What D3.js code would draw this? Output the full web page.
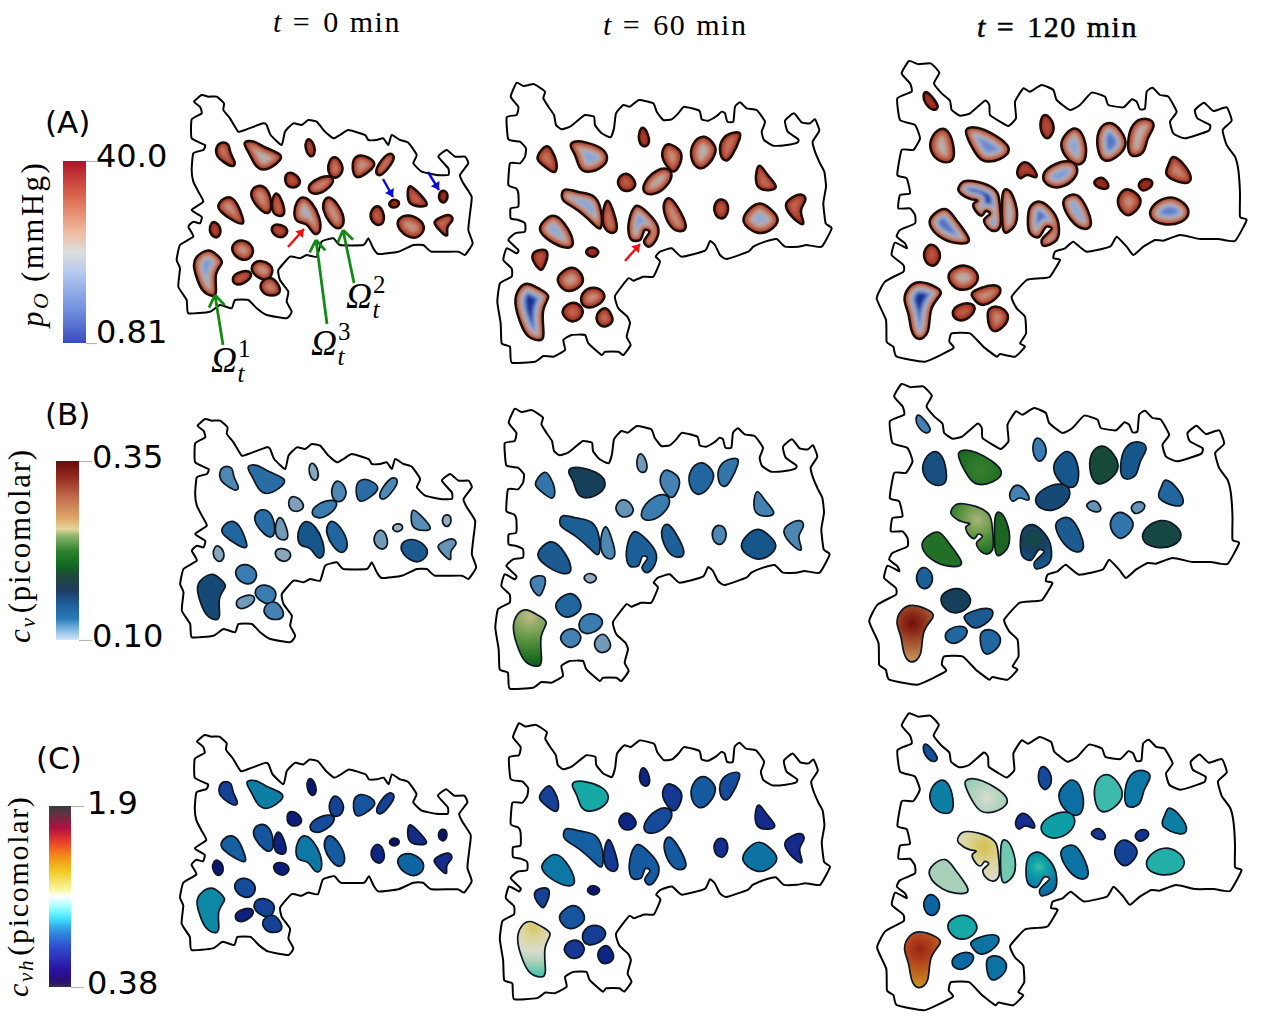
<!DOCTYPE html>
<html>
<head>
<meta charset="utf-8">
<script src="https://cdn.jsdelivr.net/npm/d3@7"></script>
<style>
  html, body { margin: 0; padding: 0; background: #fff; overflow: hidden; }
  svg { display: block; }
</style>
</head>
<body>
<svg id="fig" width="1276" height="1023"></svg>
<script>
// Tissue outlines at each time, in tissue coordinates.
const outlineT0 = [[605,105],[625,110],[650,110],[672,130],[670,150],[690,175],[715,215],[740,208],[790,190],[800,195],[812,225],[845,255],[855,215],[880,190],[905,195],[925,180],[950,185],[975,215],[1000,235],[1020,225],[1045,210],[1095,225],[1105,240],[1130,240],[1150,235],[1165,255],[1175,225],[1200,240],[1225,248],[1250,285],[1240,310],[1265,335],[1310,345],[1345,345],[1345,325],[1315,290],[1340,270],[1365,290],[1395,290],[1405,310],[1380,345],[1390,370],[1415,410],[1410,460],[1405,510],[1418,550],[1395,585],[1375,575],[1295,575],[1270,555],[1240,555],[1195,575],[1135,582],[1120,565],[1105,535],[1090,555],[1020,555],[1000,535],[965,545],[950,590],[920,585],[900,595],[870,590],[835,630],[840,660],[865,695],[860,725],[875,755],[860,775],[800,765],[770,745],[745,720],[705,720],[695,745],[660,735],[630,755],[565,760],[560,720],[535,680],[540,625],[530,600],[540,555],[580,530],[565,500],[580,485],[600,490],[605,470],[575,450],[610,425],[595,395],[580,365],[575,330],[580,280],[610,270],[615,255],[575,235],[575,178],[605,160],[600,140],[582,125]];
const outlineT60 = [[80,68],[100,78],[130,72],[145,80],[165,95],[160,115],[175,140],[192,165],[198,195],[215,208],[240,200],[265,180],[285,165],[312,170],[315,195],[335,220],[362,232],[372,205],[378,160],[400,135],[420,140],[447,120],[490,130],[500,155],[520,180],[545,178],[565,160],[582,140],[628,152],[635,178],[655,182],[680,168],[695,155],[705,160],[712,185],[730,185],[735,140],[750,127],[770,145],[800,150],[825,185],[815,215],[822,240],[850,257],[890,255],[922,248],[925,238],[893,215],[885,182],[912,160],[935,187],[960,190],[975,178],[988,212],[968,245],[975,275],[990,310],[1003,335],[1008,380],[1000,430],[1007,490],[1025,505],[995,560],[950,555],[925,560],[885,560],[860,537],[825,545],[790,560],[775,575],[710,597],[690,585],[675,555],[660,543],[645,572],[575,590],[545,565],[510,575],[497,590],[510,605],[490,650],[460,650],[430,662],[415,655],[375,708],[385,745],[412,770],[420,790],[410,830],[422,855],[400,885],[385,875],[345,875],[335,885],[295,850],[285,825],[245,825],[220,840],[225,870],[190,890],[160,888],[135,905],[65,908],[60,860],[35,850],[32,790],[22,725],[30,670],[65,650],[65,625],[40,600],[50,565],[80,580],[85,570],[55,540],[75,520],[105,515],[105,490],[85,480],[62,475],[62,445],[85,440],[85,400],[78,385],[55,375],[60,310],[90,310],[105,290],[108,265],[90,245],[55,238],[50,172],[80,165],[85,140],[62,110]];
const outlineT120 = [[147,33],[175,43],[212,40],[238,68],[222,100],[245,130],[270,152],[275,180],[300,197],[330,190],[375,152],[388,165],[390,195],[420,215],[445,228],[468,205],[465,155],[490,115],[510,125],[545,105],[580,120],[590,150],[630,180],[660,165],[695,128],[735,140],[745,165],[790,172],[815,148],[830,155],[840,178],[855,175],[860,125],[878,113],[900,135],[925,140],[950,185],[930,215],[940,250],[975,265],[1045,243],[1050,225],[1012,205],[1005,180],[1032,158],[1060,183],[1100,172],[1115,212],[1088,240],[1100,285],[1125,320],[1135,360],[1140,430],[1140,500],[1160,510],[1125,573],[1075,567],[1020,567],[960,555],[910,572],[885,570],[850,590],[820,615],[800,590],[770,560],[750,590],[680,605],[640,575],[615,595],[585,605],[580,625],[600,630],[570,680],[540,685],[500,690],[455,740],[470,775],[495,800],[498,850],[480,880],[495,890],[465,920],[420,912],[410,920],[370,890],[330,850],[275,850],[268,875],[280,895],[195,935],[110,920],[100,890],[80,875],[78,810],[50,745],[75,695],[130,665],[130,645],[95,615],[105,578],[140,595],[135,580],[110,560],[120,540],[165,520],[165,495],[150,475],[115,475],[120,435],[150,430],[140,385],[112,375],[125,300],[160,300],[180,265],[165,225],[120,210],[112,145],[155,125],[150,100],[125,70]];

// Vascular regions at each time, same coordinate system as the outlines.
const regionsT0 = [
 [[665,250],[685,255],[690,280],[703,305],[695,317],[670,303],[652,285],[652,262]],
 [[735,250],[765,247],[795,265],[840,285],[825,310],[790,327],[765,310],[750,280]],
 [[930,240],[942,260],[942,280],[930,287],[918,265],[920,245]],
 [[1005,293],[1022,310],[1025,335],[1005,352],[987,335],[990,305]],
 [[1080,288],[1105,295],[1122,315],[1095,340],[1070,350],[1060,325],[1063,300]],
 [[1165,283],[1180,293],[1170,315],[1145,343],[1130,335],[1140,310]],
 [[875,340],[895,355],[895,375],[870,380],[858,365],[860,345]],
 [[985,350],[997,365],[975,390],[945,400],[928,385],[945,362]],
 [[775,380],[800,390],[812,430],[805,455],[785,450],[760,420],[757,395]],
 [[832,403],[845,425],[852,458],[835,465],[818,450],[820,415]],
 [[680,415],[705,425],[725,470],[725,488],[700,480],[665,455],[658,435]],
 [[910,415],[935,432],[955,470],[958,510],[940,518],[920,490],[895,485],[885,460],[892,430]],
 [[990,415],[1015,440],[1030,480],[1015,503],[990,485],[972,450],[975,425]],
 [[645,488],[660,505],[655,528],[640,528],[630,510],[635,492]],
 [[835,495],[858,505],[855,525],[835,530],[818,515],[820,500]],
 [[1135,440],[1150,465],[1145,490],[1125,490],[1113,470],[1118,450]],
 [[1185,420],[1197,430],[1185,442],[1170,437],[1172,425]],
 [[1230,380],[1250,395],[1280,430],[1260,437],[1232,430],[1225,405]],
 [[1330,393],[1342,405],[1335,425],[1322,422],[1318,405]],
 [[1225,468],[1255,480],[1270,505],[1250,530],[1220,525],[1197,500],[1200,478]],
 [[1345,465],[1357,482],[1340,500],[1342,525],[1325,515],[1305,490],[1315,478]],
 [[725,543],[750,555],[757,575],[745,595],[720,595],[700,575],[703,553]],
 [[625,573],[650,590],[665,610],[645,640],[648,690],[635,703],[610,690],[595,660],[585,625],[590,595]],
 [[785,605],[808,615],[815,635],[800,657],[775,650],[757,630],[765,610]],
 [[745,635],[750,652],[730,668],[710,672],[700,655],[715,640]],
 [[810,655],[830,670],[838,695],[815,705],[790,695],[785,670]]
];
const regionsT60 = [
 [[170,260],[185,275],[198,305],[193,335],[170,322],[145,300],[150,280]],
 [[255,247],[290,250],[330,265],[348,290],[335,318],[295,333],[270,320],[258,285],[245,262]],
 [[460,205],[473,225],[475,250],[460,257],[448,240],[450,215]],
 [[540,255],[565,270],[573,295],[555,332],[535,320],[518,290],[525,262]],
 [[640,232],[665,250],[675,275],[650,315],[625,320],[607,295],[610,255]],
 [[740,220],[748,235],[725,285],[708,298],[693,280],[700,235]],
 [[408,342],[430,360],[432,380],[410,392],[390,380],[387,358]],
 [[525,328],[543,345],[525,380],[490,400],[462,390],[475,355],[500,335]],
 [[230,390],[270,400],[310,410],[330,450],[330,500],[310,490],[265,450],[225,425],[220,405]],
 [[355,425],[370,460],[380,505],[360,515],[340,490],[343,445]],
 [[190,470],[220,490],[247,545],[225,560],[180,540],[152,510],[165,485]],
 [[440,437],[475,460],[505,505],[495,545],[475,560],[462,545],[478,515],[465,510],[450,540],[425,540],[415,510],[425,455]],
 [[540,418],[560,440],[587,495],[570,510],[545,500],[525,460],[525,430]],
 [[150,572],[172,578],[160,620],[148,625],[130,600],[132,580]],
 [[307,563],[325,575],[310,590],[292,582],[292,570]],
 [[695,420],[712,435],[708,465],[690,473],[675,455],[678,430]],
 [[810,318],[830,345],[857,378],[835,388],[805,380],[800,345]],
 [[810,432],[840,450],[862,480],[835,510],[800,515],[762,485],[780,450]],
 [[935,405],[945,425],[930,450],[940,485],[925,485],[890,445],[900,420]],
 [[240,625],[265,635],[277,660],[265,680],[235,692],[212,675],[207,650]],
 [[115,675],[145,690],[175,712],[155,750],[160,820],[145,835],[115,825],[95,790],[78,730],[90,690]],
 [[310,685],[335,695],[340,715],[320,735],[290,740],[275,720],[285,695]],
 [[245,730],[270,740],[275,765],[250,783],[228,772],[220,750]],
 [[345,745],[362,765],[365,785],[345,798],[327,790],[322,765]]
];
const regionsT120 = [
 [[200,127],[222,150],[232,170],[218,178],[198,160],[192,140]],
 [[240,240],[265,250],[278,290],[275,330],[240,330],[217,305],[215,270]],
 [[330,238],[370,240],[445,290],[415,325],[375,330],[350,310],[322,255]],
 [[555,195],[580,225],[570,258],[553,258],[542,225]],
 [[645,238],[670,265],[675,320],[655,340],[625,325],[605,285],[620,255]],
 [[750,222],[780,245],[795,285],[765,320],[735,328],[717,300],[718,245]],
 [[860,210],[880,230],[860,265],[850,305],[815,313],[807,280],[820,225]],
 [[500,338],[525,365],[525,382],[500,372],[485,385],[473,370],[480,348]],
 [[625,335],[648,355],[640,385],[605,408],[570,405],[552,380],[575,350]],
 [[310,395],[370,400],[410,425],[420,470],[420,530],[405,543],[385,535],[372,510],[390,490],[378,483],[365,497],[345,480],[340,462],[352,452],[335,448],[315,440],[295,420]],
 [[440,422],[460,445],[470,510],[445,540],[430,535],[427,470],[430,432]],
 [[260,480],[285,510],[325,565],[300,577],[250,565],[212,525],[225,495]],
 [[540,455],[575,480],[595,520],[590,570],[550,587],[545,570],[575,535],[560,530],[535,562],[510,550],[505,490],[515,465]],
 [[640,437],[665,450],[692,515],[670,533],[635,510],[612,465],[620,445]],
 [[215,585],[237,605],[233,635],[212,645],[195,625],[197,600]],
 [[315,648],[348,670],[345,700],[310,718],[280,705],[268,680],[280,660]],
 [[180,700],[225,715],[240,735],[210,775],[205,840],[175,862],[155,835],[148,790],[135,750],[150,715]],
 [[410,708],[415,735],[370,765],[345,745],[338,730],[365,715]],
 [[330,762],[342,780],[320,805],[295,808],[280,790],[295,768]],
 [[410,772],[430,780],[443,805],[420,835],[395,838],[385,800],[390,778]],
 [[730,385],[745,410],[725,415],[705,402],[710,390]],
 [[860,387],[877,400],[860,418],[845,418],[838,400]],
 [[805,420],[830,435],[840,460],[815,490],[795,490],[775,460],[785,430]],
 [[940,322],[975,350],[990,385],[970,397],[920,375],[930,345]],
 [[925,445],[960,455],[983,485],[960,515],[910,520],[875,500],[885,465]]
];

// Oxygen tension at the core of each region (mmHg).
const poT0 = [28,19,34,28,24,28,32,26,25,30,24,17,24,34,33,31,38,30,38,24,29,24,11,24,31,26];
const poT60 = [28,12,35,25,20,28,31,21,12,28,13,11,25,32,37,32,29,14,30,23,1,25,30,29];
const poT120 = [36,20,9,33,13,7,20,34,11,2,18,7,6,13,32,20,1,25,31,26,38,38,25,26,8];

// Virus concentration per region (picomolar); [core, rim] where the value varies across it.
const cvT0 = [.14,.16,.115,.14,.16,.14,.12,.15,.16,.125,.165,.178,.165,.115,.115,.125,.105,.135,.11,.175,.13,.15,.185,.15,.125,.145];
const cvT60 = [.155,.192,.125,.145,.165,.155,.13,.15,.172,.14,.175,.17,.17,.145,.11,.14,.145,.178,.14,.165,[.26,.21],.15,.145,.125];
const cvT120 = [.145,.182,[.225,.215],.15,.178,.2,.178,.145,.185,[.255,.215],.213,.218,[.2,.175],.175,.17,.192,[.345,.285],.175,.165,.165,.13,.13,.155,.165,.197];

// Hypoxic virus concentration per region (picomolar).
const cvhT0 = [.62,.85,.40,.62,.68,.62,.45,.65,.68,.48,.72,.82,.7,.42,.45,.5,.38,.52,.39,.75,.53,.65,.88,.62,.47,.62];
const cvhT60 = [.62,.98,.5,.58,.7,.65,.5,.65,.72,.58,.82,.7,.7,.62,.42,.55,.53,.8,.53,.68,[1.3,1.05],.6,.58,.5];
const cvhT120 = [.66,.85,[1.17,1.1],.65,.78,1.03,.82,.55,.95,[1.32,1.17],1.08,1.12,[1.04,.74],.8,.75,.98,[1.75,1.45],.8,.76,.8,.58,.56,.62,.85,1.0];

// Peak locations for regions whose value is not centred: [region index, x, y].
const peaksT0 = [[22,620,620]];
const peaksT60 = [[20,125,690]];
const peaksT120 = [[9,375,440],[16,180,750]];

// Colour bar ramps.
const barPoValues = [0.81,8,16,20.4,25,32,40];
const barPoColors = ["#3a4cbe","#7191e0","#b5c9f0","#dddddd","#f0b89c","#dc6b50","#b2132b"];
const barCvValues = [.10,.115,.13,.15,.17,.19,.205,.225,.245,.255,.27,.30,.325,.35];
const barCvColors = ["#d4e6f7","#7fb6e0","#2a7ab8","#1f5e9a","#1e3a60","#1f4a38","#0f6a20","#2f8530","#8ab36a","#e3d79a","#e0a868","#c06a4c","#983020","#6b0a0a"];
const barCvhValues = [.38,.42,.52,.72,.85,.95,1.04,1.14,1.2,1.36,1.48,1.6,1.72,1.84,1.9];
const barCvhColors = ["#3a3050","#2a1070","#2a10a0","#3050d0","#3090e0","#40e0ff","#90ffff","#ffffff","#f8f5a0","#f0c81e","#f58a1a","#e8402a","#b01040","#5a3340","#3f3a42"];

// Shaded surface ramps, as rendered on the regions.
const surfPoValues = [0.81,4,8,12,16,20,25,30,36,40];
const surfPoColors = ["#16308f","#3454ae","#6080c8","#88a4d8","#a0aecb","#b8aea8","#c48c78","#c0654e","#a83828","#8a2216"];
const surfCvValues = [.10,.12,.135,.15,.165,.18,.19,.2,.215,.235,.26,.29,.31,.33,.35];
const surfCvColors = ["#a8b8c0","#7fa0b8","#5a8db5","#3a7bb0","#20669f","#175487","#1a3f62","#174a38","#1a6a20","#5a9440","#c0bc88","#c08a55","#a85a35","#8a2a18","#6a0505"];
const surfCvhValues = [.38,.55,.7,.85,.98,1.06,1.12,1.17,1.25,1.32,1.5,1.7,1.9];
const surfCvhColors = ["#10106a","#122f8f","#125a9f","#0f7fa5","#12a8a5","#55c5ac","#a8d0b8","#d8dcd0","#dcd498","#d4bf50","#c87a20","#a8301a","#501010"];

const columnTitles = ["0", "60", "120"];
const rowLetters = ["(A)", "(B)", "(C)"];
const tickValuesA = [40, 0.81], tickTextA = ["40.0", "0.81"];
const tickValuesB = [.35, .10], tickTextB = ["0.35", "0.10"];
const tickValuesC = [1.9, .38], tickTextC = ["1.9", "0.38"];

const svg = d3.select("#fig");
const defs = svg.append("defs");
defs.append("filter").attr("id", "soft").attr("x", "-5%").attr("y", "-5%").attr("width", "110%").attr("height", "110%")
  .append("feGaussianBlur").attr("stdDeviation", 0.45);
defs.append("filter").attr("id", "bands").attr("x", "-40%").attr("y", "-40%").attr("width", "180%").attr("height", "180%")
  .append("feGaussianBlur").attr("stdDeviation", 1.8);

const ramp = (vals, cols) => d3.scaleLinear().domain(vals).range(cols).interpolate(d3.interpolateRgb).clamp(true);
const surfaces = [ramp(surfPoValues, surfPoColors), ramp(surfCvValues, surfCvColors), ramp(surfCvhValues, surfCvhColors)];

const times = [
  { outline: outlineT0, regions: regionsT0, values: [poT0, cvT0, cvhT0], peaks: peaksT0 },
  { outline: outlineT60, regions: regionsT60, values: [poT60, cvT60, cvhT60], peaks: peaksT60 },
  { outline: outlineT120, regions: regionsT120, values: [poT120, cvT120, cvhT120], peaks: peaksT120 }
];

// Panel placement: [offset x, offset y, scale x, scale y] for each time (column) and row.
const placement = [
  [[0,60,1,1],[3.5,384,1,1],[5.9,700.5,.9855,.985]],
  [[490,60,1,1],[488,386,1,1],[492.6,701,.9875,.985]],
  [[860,50,1,1],[852.5,373,1,1],[860.7,702.5,.985,.987]]
];

const outlineCurve = d3.line().curve(d3.curveCardinalClosed.tension(0.55));
const notchedCurve = d3.line().curve(d3.curveCatmullRomClosed.alpha(0.5));
const roundCurve = d3.line().curve(d3.curveBasisClosed);

// Plain regions use a B-spline whose control points are pushed out from each vertex,
// so the curve stays close to the vertices and keeps concave waists;
// regions with notches (many vertices) keep an interpolating spline.
const hasNotch = pts => pts.length >= 12;
function regionPath(pts) {
  if (hasNotch(pts)) return notchedCurve(pts);
  const n = pts.length;
  const [cx, cy] = d3.polygonCentroid(pts);
  const control = pts.map((p, i) => {
    const a = pts[(i + n - 1) % n], b = pts[(i + 1) % n];
    const qx = p[0] + 0.42 * (p[0] - (a[0] + b[0]) / 2);
    const qy = p[1] + 0.42 * (p[1] - (a[1] + b[1]) / 2);
    return [cx + (qx - cx) * 1.04, cy + (qy - cy) * 1.04];
  });
  return roundCurve(control);
}

const ridgeStyle = [
  { stroke: "#1c0706", width: 2.5 },
  { stroke: "#0b1820", width: 1.7 },
  { stroke: "#0a1424", width: 1.7 }
];

// Deepest point of a polygon and its distance to the boundary.
function pole(poly) {
  const [x0, x1] = d3.extent(poly, p => p[0]), [y0, y1] = d3.extent(poly, p => p[1]);
  let best = { p: d3.polygonCentroid(poly), r: 0 };
  const segDist = (p, a, b) => {
    const dx = b[0]-a[0], dy = b[1]-a[1];
    const t = Math.max(0, Math.min(1, ((p[0]-a[0])*dx + (p[1]-a[1])*dy) / (dx*dx + dy*dy)));
    return Math.hypot(p[0]-a[0]-t*dx, p[1]-a[1]-t*dy);
  };
  for (let i = 1; i < 24; i++) for (let j = 1; j < 24; j++) {
    const p = [x0 + (x1-x0)*i/24, y0 + (y1-y0)*j/24];
    if (!d3.polygonContains(poly, p)) continue;
    const r = d3.min(poly, (a, k) => segDist(p, a, poly[(k+1) % poly.length]));
    if (r > best.r) best = { p, r };
  }
  return best;
}

times.forEach((time, c) => {
  [0, 1, 2].forEach(r => {
    const [ox, oy, sx, sy] = placement[c][r];
    const x = d3.scaleLinear().domain([0, 3]).range([ox, ox + sx]);
    const y = d3.scaleLinear().domain([0, 3]).range([oy, oy + sy]);
    const toPage = pts => pts.map(p => [x(p[0]), y(p[1])]);
    const g = svg.append("g").attr("filter", "url(#soft)");

    g.append("path").attr("d", outlineCurve(toPage(time.outline)))
      .attr("fill", "#fff").attr("stroke", "#000").attr("stroke-width", 2).attr("stroke-linejoin", "round");

    time.regions.forEach((region, i) => {
      const pts = toPage(region);
      const d = regionPath(pts);
      const surface = surfaces[r];
      const val = time.values[r][i];
      const id = `m${c}${r}${i}`;
      if (r === 0) {
        // Oxygen falls with depth: nested bands, softened and clipped to the region.
        defs.append("clipPath").attr("id", id).append("path").attr("d", d);
        const { r: depth } = pole(pts);
        const clip = g.append("g").attr("clip-path", `url(#${id})`);
        const layer = clip.append("g").attr("filter", "url(#bands)");
        layer.append("path").attr("d", d).attr("fill", surface(val));
        const steps = d3.range(14, 0, -1).map(k => k / 14);
        layer.selectAll("path.band").data(steps).join("path").attr("class", "band")
          .attr("d", d).attr("fill", "none")
          .attr("stroke", k => surface(40 + (val - 40) * Math.pow(k, 0.95)))
          .attr("stroke-width", k => 2 * k * depth * 0.95);
        g.append("path").attr("d", d).attr("fill", "none")
          .attr("stroke", ridgeStyle[r].stroke).attr("stroke-width", ridgeStyle[r].width);
      } else {
        let fill;
        if (Array.isArray(val)) {
          const pk = time.peaks.find(q => q[0] === i);
          const centre = pk ? [x(pk[1]), y(pk[2])] : pole(pts).p;
          const radius = d3.max(pts, p => Math.hypot(p[0]-centre[0], p[1]-centre[1]));
          const grad = defs.append("radialGradient").attr("id", id).attr("gradientUnits", "userSpaceOnUse")
            .attr("cx", centre[0]).attr("cy", centre[1]).attr("r", radius);
          d3.range(0, 1.001, 0.1).forEach(k => {
            grad.append("stop").attr("offset", k).attr("stop-color", surface(val[0] + (val[1] - val[0]) * k));
          });
          fill = `url(#${id})`;
        } else {
          fill = surface(val);
        }
        g.append("path").attr("d", d).attr("fill", fill)
          .attr("stroke", ridgeStyle[r].stroke).attr("stroke-width", ridgeStyle[r].width);
      }
    });
  });
});

// Colour bars with their axes.
const bars = [
  { vals: barPoValues, cols: barPoColors, x: 63, w: 23, top: 161, bot: 343, ticks: tickValuesA, text: tickTextA, tick: 11, lx: 96, base: [166.7, 342.7] },
  { vals: barCvValues, cols: barCvColors, x: 56, w: 23, top: 461, bot: 640, ticks: tickValuesB, text: tickTextB, tick: 13, lx: 92, base: [467.3, 646.7] },
  { vals: barCvhValues, cols: barCvhColors, x: 49, w: 22, top: 806, bot: 987, ticks: tickValuesC, text: tickTextC, tick: 13, lx: 87, base: [813, 993] }
];
bars.forEach((b, i) => {
  const domain = d3.extent(b.vals);
  const scale = d3.scaleLinear().domain(domain).range([b.bot, b.top]);
  const colour = ramp(b.vals, b.cols);
  const gradId = `bar${i}`;
  const grad = defs.append("linearGradient").attr("id", gradId).attr("x1", 0).attr("x2", 0).attr("y1", 1).attr("y2", 0);
  d3.range(0, 1.0001, 0.02).forEach(k => {
    grad.append("stop").attr("offset", k).attr("stop-color", colour(domain[0] + (domain[1] - domain[0]) * k));
  });
  svg.append("rect").attr("x", b.x).attr("y", b.top).attr("width", b.w).attr("height", b.bot - b.top)
    .attr("fill", `url(#${gradId})`);
  const axis = d3.axisRight(scale).tickValues(b.ticks).tickSize(b.tick).tickFormat((d, k) => b.text[k]);
  const ag = svg.append("g").attr("transform", `translate(${b.x + b.w},0)`).call(axis);
  ag.select(".domain").remove();
  ag.selectAll("line").attr("stroke", "#b5b5b5").attr("stroke-width", 1.2);
  ag.selectAll("text").attr("fill", "#000").attr("font-family", "DejaVu Sans").attr("font-size", 32)
    .attr("dy", null).attr("x", b.lx - b.x - b.w).attr("y", (d, k) => b.base[k] - scale(d));
});

// Row letters.
const letterPos = [[45, 133], [45, 425], [36, 769]];
svg.selectAll("text.letter").data(rowLetters).join("text").attr("class", "letter")
  .attr("x", (d, i) => letterPos[i][0]).attr("y", (d, i) => letterPos[i][1])
  .attr("font-family", "DejaVu Sans").attr("font-size", 31).attr("fill", "#000").text(d => d);

// Column titles.
const serif = "Liberation Serif";
const titleX = [273, 603, 977], titleY = [32, 35, 37];
columnTitles.forEach((m, i) => {
  const t = svg.append("text").attr("x", titleX[i]).attr("y", titleY[i]).attr("font-family", serif)
    .attr("font-size", 30).attr("letter-spacing", 1.5).attr("fill", "#000");
  if (i === 2) t.attr("stroke", "#000").attr("stroke-width", 0.5);
  t.append("tspan").attr("font-style", "italic").text("t");
  t.append("tspan").attr("dx", 10).text("=");
  t.append("tspan").attr("dx", 12).text(m);
  t.append("tspan").attr("dx", 10).text("min");
});

// Rotated colour bar titles with subscripted symbols.
const axisTitles = [
  { x: 43, y: 327, sym: "p", sub: "O", rest: "(mmHg)", size: 31, gap: 9, ls: 2.4 },
  { x: 30, y: 643, sym: "c", sub: "v", rest: "(picomolar)", size: 31, gap: 3, ls: 1.7 },
  { x: 28, y: 997, sym: "c", sub: "vh", rest: "(picomolar)", size: 30, gap: 3, ls: 1.7 }
];
axisTitles.forEach(a => {
  const t = svg.append("text").attr("transform", `translate(${a.x},${a.y}) rotate(-90)`)
    .attr("font-family", serif).attr("font-size", a.size).attr("letter-spacing", a.ls).attr("fill", "#000");
  t.append("tspan").attr("font-style", "italic").text(a.sym);
  t.append("tspan").attr("font-style", "italic").attr("font-size", a.size * 0.7).attr("dy", 5).text(a.sub);
  t.append("tspan").attr("dy", -5).attr("dx", a.gap).text(a.rest);
});

// Region labels next to the green arrows: Ω with superscript index and subscript t.
const omegaLabels = [[211, 372, "1"], [346, 308, "2"], [311, 355, "3"]];
omegaLabels.forEach(([ox, oy, idx]) => {
  const t = svg.append("text").attr("x", ox).attr("y", oy).attr("font-family", serif)
    .attr("font-size", 36).attr("font-style", "italic").attr("fill", "#000");
  t.append("tspan").text("Ω");
  t.append("tspan").attr("font-size", 25).attr("font-style", "normal").attr("dx", 1).attr("dy", -15).text(idx);
  t.append("tspan").attr("font-size", 25).attr("dx", -13).attr("dy", 25).text("t");
});

// Annotation arrows.
const openArrows = [[223,345,215,295],[354,283,343,230],[327,324,316,240]];
const solidArrows = [
  [383,179,393,197,"#0a0adc"],[428,172,439,190,"#0a0adc"],
  [288,247,304,229,"#f01010"],[625,261,640,244,"#f01010"]
];
const headAngle = a => [a + Math.PI - 0.6, a + Math.PI + 0.6];
openArrows.forEach(([x1,y1,x2,y2]) => {
  const a = Math.atan2(y2-y1, x2-x1);
  const path = d3.path();
  path.moveTo(x1,y1); path.lineTo(x2,y2);
  headAngle(a).forEach(h => { path.moveTo(x2,y2); path.lineTo(x2 + 14*Math.cos(h), y2 + 14*Math.sin(h)); });
  svg.append("path").attr("d", path.toString()).attr("fill", "none").attr("stroke", "#138a13").attr("stroke-width", 2.8);
});
solidArrows.forEach(([x1,y1,x2,y2,col]) => {
  const a = Math.atan2(y2-y1, x2-x1);
  svg.append("line").attr("x1",x1).attr("y1",y1).attr("x2",x2).attr("y2",y2).attr("stroke",col).attr("stroke-width",2.4);
  const h = headAngle(a).map(q => [x2 + 9*Math.cos(q), y2 + 9*Math.sin(q)]);
  svg.append("path").attr("d", d3.line()([[x2,y2], h[0], h[1]]) + "Z").attr("fill", col);
});
</script>
</body>
</html>
